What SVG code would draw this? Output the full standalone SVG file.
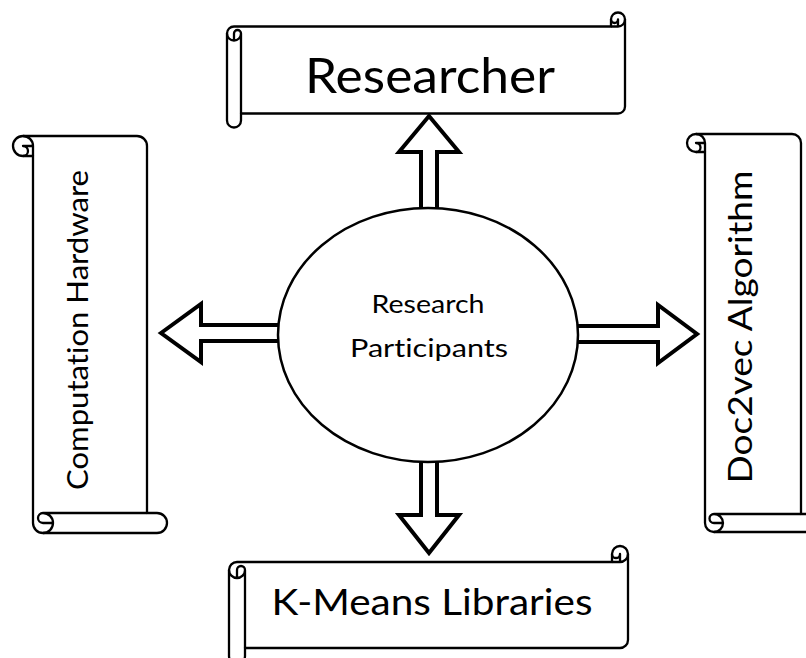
<svg xmlns="http://www.w3.org/2000/svg" width="806" height="658" viewBox="0 0 806 658">
<style>
.bg{fill:#fff}
.scroll{fill:#fff;stroke:#000;stroke-width:2.3;stroke-linejoin:round}
.det{fill:none;stroke:#000;stroke-width:2.3;stroke-linejoin:round}
.arrow{fill:#fff;stroke:#000;stroke-width:4;stroke-linejoin:miter;stroke-miterlimit:10}
.ell{fill:#fff;stroke:#000;stroke-width:2.5}
text{font-family:Lato,"Open Sans","Liberation Sans",sans-serif;fill:#000;text-anchor:middle;font-variant-ligatures:none;font-feature-settings:"liga" 0,"dlig" 0}
</style>
<rect class="bg" x="0" y="0" width="806" height="658"/>
<g id="connectors">
  <polygon class="arrow" points="429,116 459,152 437,152 437,215 421,215 421,152 399,152"/>
  <polygon class="arrow" points="421,455 437,455 437,515 459,515 429,553 399,515 421,515"/>
  <polygon class="arrow" points="161,333 201,304 201,325 285,325 285,341 201,341 201,362"/>
  <polygon class="arrow" points="570,326 658,326 658,305 697,334 658,363 658,342 570,342"/>
</g>
<g id="researcher">
  <g transform="translate(227,12.5)">
    <path class="scroll" d="M0,21 A7,7 0 0 1 7,14 L384,14 L384,7 A7,7 0 0 1 398,7 L398,94 A7,7 0 0 1 391,101 L14,101 L14,108 A7,7 0 0 1 0,108 Z"/>
    <path class="det" d="M384,14 L391,14 A7,7 0 0 0 398,7 M391,14 L391,7 A3.5,3.5 0 0 1 384,7 M7,28 L7,21 A3.5,3.5 0 0 1 14,21 A7,7 0 0 1 0,21 M14,21 L14,101"/>
  </g>
  <text x="430" y="93" font-size="49" textLength="250" lengthAdjust="spacingAndGlyphs">Researcher</text>
</g>
<g id="kmeans">
  <g transform="translate(229,546)">
    <path class="scroll" d="M0,24 A8,8 0 0 1 8,16 L383,16 L383,8 A8,8 0 0 1 399,8 L399,94 A8,8 0 0 1 391,102 L16,102 L16,110 A8,8 0 0 1 0,110 Z"/>
    <path class="det" d="M383,16 L391,16 A8,8 0 0 0 399,8 M391,16 L391,8 A4,4 0 0 1 383,8 M8,32 L8,24 A4,4 0 0 1 16,24 A8,8 0 0 1 0,24 M16,24 L16,102"/>
  </g>
  <text x="432" y="615" font-size="36" textLength="321" lengthAdjust="spacingAndGlyphs">K-Means Libraries</text>
</g>
<g id="hardware">
  <g transform="translate(13,533) rotate(-90)">
    <path class="scroll" d="M0,30 A10,10 0 0 1 10,20 L377,20 L377,10 A10,10 0 0 1 397,10 L397,124 A10,10 0 0 1 387,134 L20,134 L20,144 A10,10 0 0 1 0,144 Z"/>
    <path class="det" d="M377,20 L387,20 A10,10 0 0 0 397,10 M387,20 L387,10 A5,5 0 0 1 377,10 M10,40 L10,30 A5,5 0 0 1 20,30 A10,10 0 0 1 0,30 M20,30 L20,134"/>
  </g>
  <text transform="translate(88,330) rotate(-90)" x="0" y="0" font-size="28" textLength="320" lengthAdjust="spacingAndGlyphs">Computation Hardware</text>
</g>
<g id="doc2vec">
  <g transform="translate(687,532) rotate(-90)">
    <path class="scroll" d="M0,27 A9,9 0 0 1 9,18 L380,18 L380,9 A9,9 0 0 1 398,9 L398,105 A9,9 0 0 1 389,114 L18,114 L18,123 A9,9 0 0 1 0,123 Z"/>
    <path class="det" d="M380,18 L389,18 A9,9 0 0 0 398,9 M389,18 L389,9 A4.5,4.5 0 0 1 380,9 M9,36 L9,27 A4.5,4.5 0 0 1 18,27 A9,9 0 0 1 0,27 M18,27 L18,114"/>
  </g>
  <text transform="translate(752,327) rotate(-90)" x="0" y="0" font-size="32" textLength="313" lengthAdjust="spacingAndGlyphs">Doc2vec Algorithm</text>
</g>
<g id="participants">
  <ellipse class="ell" cx="428" cy="335" rx="150" ry="127"/>
  <text x="428" y="313" font-size="25" textLength="113" lengthAdjust="spacingAndGlyphs">Research</text>
  <text x="429" y="357" font-size="25" textLength="158" lengthAdjust="spacingAndGlyphs">Participants</text>
</g>
</svg>
